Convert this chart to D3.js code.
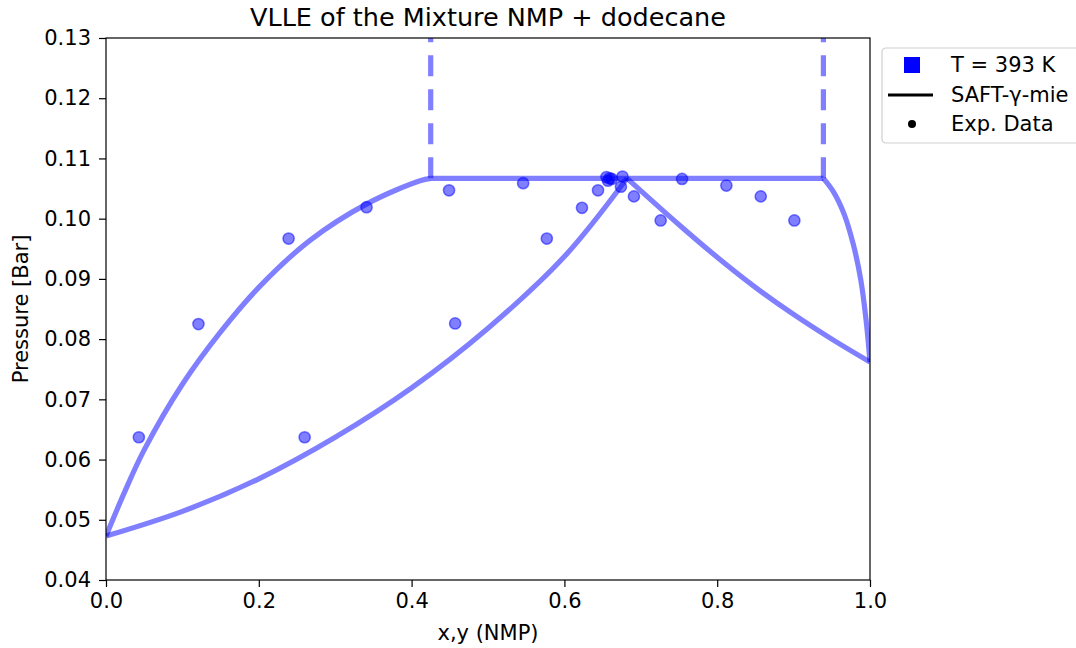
<!DOCTYPE html>
<html>
<head>
<meta charset="utf-8">
<script src="https://cdn.jsdelivr.net/npm/d3@7"></script>
<style>
  body { margin: 0; background: #fff; }
  text { font-family: "DejaVu Sans", sans-serif; fill: #000; }
</style>
</head>
<body>
<div id="chart"></div>
<script>
var svgWidth = 1076;
var svgHeight = 648;

var margin = { top: 38, right: 206, bottom: 68, left: 106 };

var width = svgWidth - margin.left - margin.right;
var height = svgHeight - margin.top - margin.bottom;

// model curves
var leftVapX = [0, 0.025, 0.05, 0.1, 0.15, 0.2016, 0.267, 0.342, 0.411, 0.425];
var leftVapP = [0.0473, 0.0548, 0.0616, 0.0725, 0.0812, 0.0888, 0.0964, 0.1025, 0.1063, 0.1067];

var leftLiqX = [0, 0.1, 0.2, 0.3, 0.4, 0.5, 0.6, 0.682];
var leftLiqP = [0.0473, 0.0514, 0.0568, 0.0637, 0.0719, 0.0818, 0.0937, 0.1067];

var rightVapX = [0.682, 0.75, 0.8, 0.85, 0.9, 0.95, 1.0];
var rightVapP = [0.1067, 0.0990, 0.0936, 0.0886, 0.0841, 0.0800, 0.0762];

var rightLiqX = [0.939, 0.952, 0.966, 0.978, 0.988, 0.995, 1.0];
var rightLiqP = [0.1067, 0.1045, 0.1008, 0.0958, 0.0898, 0.0830, 0.0762];

var threePhaseP = 0.1067;
var threePhaseX = [0.425, 0.939];

// experimental data
var expX = [0.043, 0.121, 0.239, 0.341, 0.449, 0.260, 0.457, 0.546, 0.577, 0.623, 0.644,
            0.655, 0.657, 0.662, 0.659, 0.676, 0.674, 0.691, 0.726, 0.754, 0.812, 0.857, 0.901];
var expP = [0.0637, 0.0825, 0.0967, 0.1019, 0.1047, 0.0637, 0.0826, 0.1059, 0.0967, 0.1018, 0.1047,
            0.1069, 0.1063, 0.1066, 0.1067, 0.1070, 0.1053, 0.1037, 0.0997, 0.1066, 0.1055, 0.1037, 0.0997];

var xTicks = [0, 0.2, 0.4, 0.6, 0.8, 1.0];
var yTicks = [0.04, 0.05, 0.06, 0.07, 0.08, 0.09, 0.10, 0.11, 0.12, 0.13];

var legendLabels = ["T = 393 K", "SAFT-γ-mie", "Exp. Data"];

var lineColor = "rgba(0,0,255,0.5)";

var svg = d3.select("#chart")
  .append("svg")
  .attr("width", svgWidth)
  .attr("height", svgHeight);

var chartGroup = svg.append("g")
  .attr("transform", `translate(${margin.left}, ${margin.top})`);

var xScale = d3.scaleLinear().domain([0, 1]).range([0, width]);
var yScale = d3.scaleLinear().domain([0.04, 0.13]).range([height, 0]);

chartGroup.append("clipPath").attr("id", "clip")
  .append("rect").attr("width", width).attr("height", height);

var plot = chartGroup.append("g").attr("clip-path", "url(#clip)");

// scatter first (under the lines like matplotlib)
plot.selectAll("circle.exp")
  .data(expX.map((x, i) => [x, expP[i]]))
  .enter()
  .append("circle")
  .attr("class", "exp")
  .attr("cx", d => xScale(d[0]))
  .attr("cy", d => yScale(d[1]))
  .attr("r", 5.6)
  .attr("fill", lineColor)
  .attr("stroke", lineColor)
  .attr("stroke-width", 1.5);

var line = d3.line()
  .x(d => xScale(d[0]))
  .y(d => yScale(d[1]))
  .curve(d3.curveCatmullRom.alpha(0.5));

function zipPts(xs, ps) {
  return xs.map((x, i) => [x, ps[i]]);
}

var curves = [
  zipPts(leftVapX, leftVapP),
  zipPts(leftLiqX, leftLiqP),
  zipPts(rightVapX, rightVapP),
  zipPts(rightLiqX, rightLiqP),
  threePhaseX.map(x => [x, threePhaseP])
];

curves.forEach(function(c) {
  plot.append("path")
    .attr("d", line(c))
    .attr("fill", "none")
    .attr("stroke", lineColor)
    .attr("stroke-width", 5.2);
});

// dashed verticals going up from the three-phase line
threePhaseX.forEach(function(x) {
  plot.append("path")
    .attr("d", d3.line()([[xScale(x), yScale(threePhaseP)], [xScale(x), yScale(0.14)]]))
    .attr("fill", "none")
    .attr("stroke", lineColor)
    .attr("stroke-width", 5.2)
    .attr("stroke-dasharray", "21,13");
});

// axes
var bottomAxis = d3.axisBottom(xScale).tickValues(xTicks).tickFormat(d3.format(".1f"))
  .tickSize(7).tickPadding(6);
var leftAxis = d3.axisLeft(yScale).tickValues(yTicks).tickFormat(d3.format(".2f"))
  .tickSize(7).tickPadding(8);

var xAxis = chartGroup.append("g")
  .attr("transform", `translate(0, ${height})`)
  .call(bottomAxis);
var yAxis = chartGroup.append("g").call(leftAxis);

[xAxis, yAxis].forEach(function(a) {
  a.select(".domain").remove();
  a.selectAll("line").attr("stroke", "#000").attr("stroke-width", 1.2);
  a.selectAll("text").style("font-size", "21px").attr("fill", "#000");
});

// frame
chartGroup.append("rect")
  .attr("width", width)
  .attr("height", height)
  .attr("fill", "none")
  .attr("stroke", "#000")
  .attr("stroke-width", 1.2);

// labels
svg.append("text")
  .attr("x", margin.left + width / 2)
  .attr("y", 26)
  .attr("text-anchor", "middle")
  .style("font-size", "25.5px")
  .text("VLLE of the Mixture NMP + dodecane");

svg.append("text")
  .attr("x", margin.left + width / 2)
  .attr("y", 640)
  .attr("text-anchor", "middle")
  .style("font-size", "21px")
  .text("x,y (NMP)");

svg.append("text")
  .attr("transform", `translate(28, ${margin.top + height / 2}) rotate(-90)`)
  .attr("text-anchor", "middle")
  .style("font-size", "21px")
  .text("Pressure [Bar]");

// legend
var legend = svg.append("g").attr("transform", "translate(882, 48)");
legend.append("rect")
  .attr("width", 230)
  .attr("height", 95)
  .attr("rx", 4)
  .attr("fill", "#fff")
  .attr("stroke", "#d0d0d0")
  .attr("stroke-width", 1.2);

var rowY = [17, 47, 76];
legend.append("rect")
  .attr("x", 30 - 8).attr("y", rowY[0] - 8)
  .attr("width", 16).attr("height", 16)
  .attr("fill", "#0000ff");
legend.append("line")
  .attr("x1", 6).attr("x2", 51)
  .attr("y1", rowY[1]).attr("y2", rowY[1])
  .attr("stroke", "#000").attr("stroke-width", 3);
legend.append("circle")
  .attr("cx", 30).attr("cy", rowY[2]).attr("r", 4)
  .attr("fill", "#000");

legend.selectAll("text.lbl")
  .data(legendLabels)
  .enter()
  .append("text")
  .attr("class", "lbl")
  .attr("x", 69)
  .attr("y", (d, i) => rowY[i])
  .attr("dy", "0.35em")
  .style("font-size", "21px")
  .text(d => d);
</script>
</body>
</html>
